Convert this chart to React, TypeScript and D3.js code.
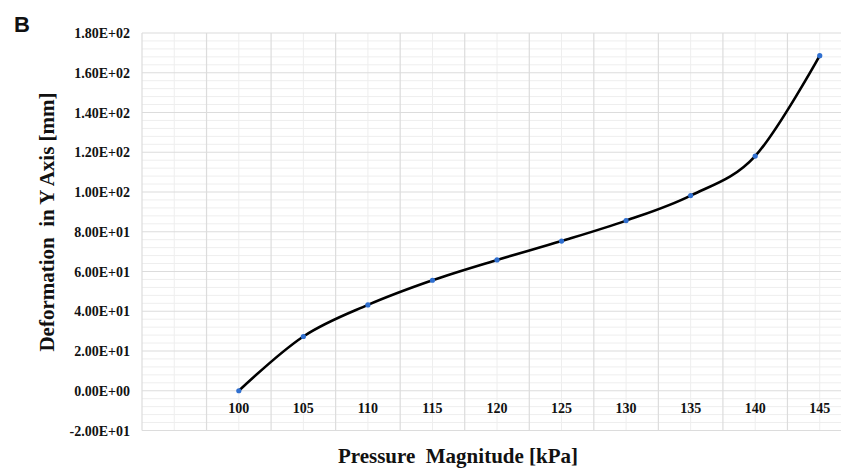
import React, { useRef, useEffect } from "react";
import * as d3 from "d3";

// pressure magnitude (kPa) and deformation in Y (mm)
const pressure = [100, 105, 110, 115, 120, 125, 130, 135, 140, 145];
const deformation = [0, 27.3, 43.2, 55.6, 65.8, 75.3, 85.6, 98.2, 118.1, 168.6];
// Excel category axis starts with one empty slot
const categories = ["", ...pressure.map(String)];
const yTicks = [-20, 0, 20, 40, 60, 80, 100, 120, 140, 160, 180];

const W = 841;
const H = 469;

function sci(v: number) {
  const [m, e] = v.toExponential(2).split("e");
  const sign = e[0] === "-" ? "-" : "+";
  const digits = e.replace(/[+-]/, "").padStart(2, "0");
  return m + "E" + sign + digits;
}

const App = () => {
  const svgRef = useRef<SVGSVGElement>(null);

  useEffect(() => {
    const svg = d3.select(svgRef.current);
    svg.selectAll("*").remove();

    const left = 142;
    const top = 33;
    const bottom = 430.5;

    const x = d3.scaleBand().domain(categories).range([left, 852]).padding(0);
    const y = d3.scaleLinear().domain([-20, 180]).range([bottom, top]);

    const grid = svg.append("g");

    // minor horizontal gridlines every 4
    const minorY = d3.range(-20, 180.1, 4).filter(v => v % 20 !== 0);
    grid.selectAll("line.hmin").data(minorY).enter().append("line")
      .attr("x1", left).attr("x2", 852)
      .attr("y1", d => y(d)).attr("y2", d => y(d))
      .attr("stroke", "#eeeeee").attr("stroke-width", 1);

    // minor vertical gridlines at category centres
    grid.selectAll("line.vmin").data(categories).enter().append("line")
      .attr("x1", d => x(d)! + x.bandwidth() / 2).attr("x2", d => x(d)! + x.bandwidth() / 2)
      .attr("y1", top).attr("y2", bottom)
      .attr("stroke", "#eeeeee").attr("stroke-width", 1);

    // major horizontal
    grid.selectAll("line.hmaj").data(yTicks).enter().append("line")
      .attr("x1", left).attr("x2", 852)
      .attr("y1", d => y(d)).attr("y2", d => y(d))
      .attr("stroke", "#dcdcdc").attr("stroke-width", 1.2);

    // major vertical at category boundaries
    const bounds = categories.map(c => x(c)!).concat([x.range()[1]]);
    grid.selectAll("line.vmaj").data(bounds).enter().append("line")
      .attr("x1", d => d).attr("x2", d => d)
      .attr("y1", top).attr("y2", bottom)
      .attr("stroke", "#dcdcdc").attr("stroke-width", 1.2);

    // y tick labels
    svg.append("g").selectAll("text").data(yTicks).enter().append("text")
      .attr("x", 130).attr("y", d => y(d) + 5)
      .attr("text-anchor", "end")
      .attr("font-family", "'Liberation Serif', 'Times New Roman', serif")
      .attr("font-weight", "bold").attr("font-size", 14)
      .attr("fill", "#111")
      .text(d => sci(d));

    // x tick labels
    svg.append("g").selectAll("text").data(pressure).enter().append("text")
      .attr("x", d => x(String(d))! + x.bandwidth() / 2)
      .attr("y", y(0) + 22)
      .attr("text-anchor", "middle")
      .attr("font-family", "'Liberation Serif', 'Times New Roman', serif")
      .attr("font-weight", "bold").attr("font-size", 14)
      .attr("fill", "#111")
      .text(d => String(d));

    // smoothed line
    const pts: [number, number][] = pressure.map((p, i) => [
      x(String(p))! + x.bandwidth() / 2,
      y(deformation[i]),
    ]);
    const line = d3.line().curve(d3.curveCardinal.tension(0));
    svg.append("path")
      .attr("d", line(pts)!)
      .attr("fill", "none")
      .attr("stroke", "#000")
      .attr("stroke-width", 2.6);

    svg.append("g").selectAll("circle").data(pts).enter().append("circle")
      .attr("cx", d => d[0]).attr("cy", d => d[1])
      .attr("r", 2.6)
      .attr("fill", "#2f6fd0");

    // axis titles
    svg.append("text")
      .attr("transform", "translate(54," + 222 + ") rotate(-90)")
      .attr("text-anchor", "middle")
      .attr("font-family", "'Liberation Serif', 'Times New Roman', serif")
      .attr("font-weight", "bold").attr("font-size", 21)
      .attr("fill", "#111")
      .style("white-space", "pre")
      .text("Deformation  in Y Axis [mm]");

    svg.append("text")
      .attr("x", 458).attr("y", 463)
      .attr("text-anchor", "middle")
      .attr("font-family", "'Liberation Serif', 'Times New Roman', serif")
      .attr("font-weight", "bold").attr("font-size", 21)
      .attr("fill", "#111")
      .style("white-space", "pre")
      .text("Pressure  Magnitude [kPa]");

    // panel letter
    svg.append("text")
      .attr("x", 14).attr("y", 32)
      .attr("font-family", "'Liberation Sans', Arial, sans-serif")
      .attr("font-weight", "bold").attr("font-size", 22)
      .attr("fill", "#111")
      .text("B");
  }, []);

  return (
    <svg ref={svgRef} width={W} height={H}
      style={{ position: "absolute", left: 0, top: 0, background: "#fff" }} />
  );
};

export default App;
